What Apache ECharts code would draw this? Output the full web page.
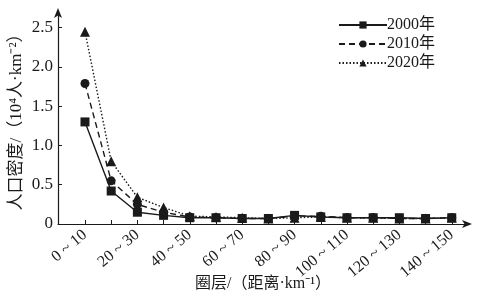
<!DOCTYPE html>
<html><head><meta charset="utf-8">
<script src="https://cdn.jsdelivr.net/npm/echarts@6/dist/echarts.min.js"></script>
<style>html,body{margin:0;padding:0;background:#fff}#c{width:480px;height:302px}</style>
</head><body><div id="c"></div>
<script>
const categories = ['0 ~ 10','10 ~ 20','20 ~ 30','30 ~ 40','40 ~ 50','50 ~ 60','60 ~ 70','70 ~ 80','80 ~ 90','90 ~ 100','100 ~ 110','110 ~ 120','120 ~ 130','130 ~ 140','140 ~ 150'];
const s2000 = [1.30, 0.42, 0.15, 0.11, 0.08, 0.08, 0.07, 0.07, 0.11, 0.09, 0.08, 0.08, 0.08, 0.07, 0.08];
const s2010 = [1.79, 0.55, 0.25, 0.15, 0.09, 0.08, 0.07, 0.07, 0.10, 0.10, 0.08, 0.08, 0.07, 0.07, 0.08];
const s2020 = [2.45, 0.80, 0.34, 0.21, 0.10, 0.09, 0.08, 0.07, 0.08, 0.09, 0.08, 0.08, 0.07, 0.07, 0.08];
const yTicks = [0, 0.5, 1.0, 1.5, 2.0, 2.5];
const seriesNames = ['2000年','2010年','2020年'];

const FONT = '"Liberation Serif", "Noto Sans CJK SC", serif';
const C = '#1a1a1a';
const pairs = arr => arr.map((v, i) => [i, v]);
const idx = categories.map((_, i) => i);

const chart = echarts.init(document.getElementById('c'), null, {renderer: 'canvas'});
chart.setOption({
  animation: false,
  backgroundColor: '#fff',
  grid: {left: 58, right: 12, top: 12, bottom: 78, outerBoundsMode: 'none', containLabel: false},
  legend: {
    orient: 'vertical', left: 333, top: 12,
    itemWidth: 48, itemHeight: 9, itemGap: 3,
    textStyle: {fontFamily: FONT, fontSize: 16, color: C, padding: [0,0,0,-5]},
    data: seriesNames
  },
  xAxis: {
    type: 'value', min: -1.03, max: 14.62,
    name: '圈层/（距离·km⁻¹）', nameLocation: 'middle', nameGap: 52, nameMoveOverlap: false,
    nameTextStyle: {fontFamily: FONT, fontSize: 16, color: C},
    splitLine: {show: false},
    axisLine: {onZero: false, lineStyle: {color: C, width: 1.2}, symbol: ['none','arrow'], symbolSize: [6, 10], symbolOffset: [0, 4]},
    axisTick: {inside: true, length: 4, lineStyle: {color: C}, customValues: idx},
    axisLabel: {
      rotate: 40, fontFamily: FONT, fontSize: 16, color: C, margin: 9,
      customValues: idx.filter(i => i % 2 === 0),
      formatter: v => categories[Math.round(v)] || ''
    }
  },
  yAxis: {
    type: 'value', min: 0, max: 2.7,
    name: '人口密度/（10⁴人·km⁻²）', nameLocation: 'middle', nameGap: 33, nameRotate: 90, nameMoveOverlap: false,
    nameTextStyle: {fontFamily: FONT, fontSize: 17, color: C},
    splitLine: {show: false},
    axisLine: {show: true, onZero: false, lineStyle: {color: C, width: 1.2}, symbol: ['none','arrow'], symbolSize: [6, 10], symbolOffset: [0, 4]},
    axisTick: {show: true, inside: true, length: 4, lineStyle: {color: C}, customValues: yTicks},
    axisLabel: {
      fontFamily: FONT, fontSize: 17, color: C, margin: 5,
      customValues: yTicks,
      formatter: v => v === 0 ? '0' : v.toFixed(1)
    }
  },
  series: [
    {name: seriesNames[0], type: 'line', data: pairs(s2000), symbol: 'rect', symbolSize: 9,
     itemStyle: {color: C}, lineStyle: {color: C, width: 1.4, type: 'solid'}},
    {name: seriesNames[1], type: 'line', data: pairs(s2010), symbol: 'circle', symbolSize: 9,
     itemStyle: {color: C}, lineStyle: {color: C, width: 1.4, type: [6, 4]}},
    {name: seriesNames[2], type: 'line', data: pairs(s2020), symbol: 'triangle', symbolSize: 10,
     itemStyle: {color: C}, lineStyle: {color: C, width: 1.4, type: [1.5, 2]}}
  ]
});
</script></body></html>
